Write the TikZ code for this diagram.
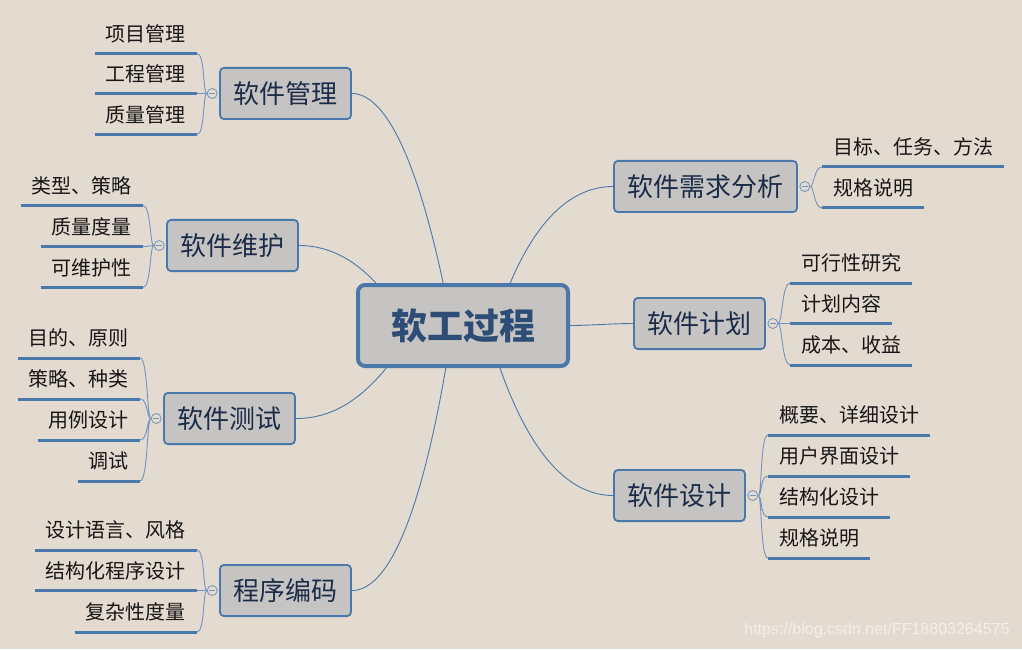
\documentclass[tikz,border=0pt]{standalone}
\usepackage{fontspec}
\setmainfont{Liberation Sans}
\newfontfamily\cjk{Noto Sans CJK SC}
\usetikzlibrary{positioning}
\definecolor{paper}{RGB}{227,219,207}
\definecolor{boxfill}{RGB}{197,196,194}
\definecolor{edge}{RGB}{74,120,170}
\definecolor{ink}{RGB}{27,44,72}
\definecolor{coreink}{RGB}{45,77,118}
\definecolor{leafink}{RGB}{22,22,22}
\definecolor{foldline}{RGB}{115,148,190}
\definecolor{wmark}{RGB}{243,240,235}
\tikzset{
  core/.style={draw=edge,line width=4pt,fill=boxfill,rounded corners=7pt,
    minimum width=210pt,minimum height=81pt,text=coreink,
    font=\cjk\bfseries\fontsize{36}{40}\selectfont},
  topic/.style={draw=edge,line width=1.8pt,fill=boxfill,rounded corners=4pt,
    minimum height=51.2pt,inner xsep=13.5pt,text=ink,
    font=\cjk\fontsize{26}{30}\selectfont},
  uline/.style={draw=edge,line width=3pt},
  leaf/.style={inner xsep=11pt,inner ysep=7pt,text height=15pt,text depth=5pt,
    text=leafink,font=\cjk\fontsize{20}{24}\selectfont,
    append after command={(\tikzlastnode.south west) edge[uline] (\tikzlastnode.south east)}},
  leafl/.style={leaf,anchor=south east},
  leafr/.style={leaf,anchor=south west},
  fold/.style={circle,draw=foldline,line width=0.8pt,fill=paper,minimum size=10pt,inner sep=0pt,
    path picture={\draw[foldline,line width=0.7pt]
      ([xshift=-2.8pt]path picture bounding box.center) -- ([xshift=2.8pt]path picture bounding box.center);}},
  link/.style={draw=edge,line width=0.9pt},
  twig/.style={draw=foldline,line width=0.9pt},
  twigl/.style={twig,out=180,in=0,out distance=4pt,in distance=8pt},
  twigr/.style={twig,out=0,in=180,out distance=4pt,in distance=8pt}
}
\begin{document}
\begin{tikzpicture}[x=1pt,y=1pt]
\fill[paper] (0,0) rectangle (1022,649);
% central topic and main branches
\node[core] (core) at (463,323.5) {软工过程};
\node[topic] (mgmt) at (285.5,555.5) {软件管理};
\node[topic] (maint) at (232.5,403.5) {软件维护};
\node[topic] (test) at (229.5,230.5) {软件测试};
\node[topic] (code) at (285.5,58.5) {程序编码};
\node[topic] (req) at (705.5,462.5) {软件需求分析};
\node[topic] (plan) at (699.5,325.5) {软件计划};
\node[topic] (design) at (679.5,153.5) {软件设计};
\draw[link] (mgmt.east) .. controls +(33,0) and +(-27,126) .. (core.115);
\draw[link] (maint.east) .. controls +(28,0) and +(-23,25) .. (core.154);
\draw[link] (test.east) .. controls +(34,0) and +(-28,-34) .. (core.209);
\draw[link] (code.east) .. controls +(36,0) and +(-26,-150) .. (core.248);
\draw[link] (req.west) .. controls +(-41,0) and +(27,64) .. (core.42);
\draw[link] (plan.west) .. controls +(-20,0) and +(20,0) .. (core.east);
\draw[link] (design.west) .. controls +(-45,0) and +(30,-85) .. (core.311);
% fold markers
\node[fold,left=1.5pt of mgmt] (fmgmt) {};
\node[fold,left=1.5pt of maint] (fmaint) {};
\node[fold,left=1.5pt of test] (ftest) {};
\node[fold,left=1.5pt of code] (fcode) {};
\node[fold,right=1.5pt of req] (freq) {};
\node[fold,right=1.5pt of plan] (fplan) {};
\node[fold,right=1.5pt of design] (fdesign) {};
% left leaves
\node[leafl] (m1) at (197,595.5) {项目管理};
\node[leafl] (m2) at (197,555.5) {工程管理};
\node[leafl] (m3) at (197,514.5) {质量管理};
\node[leafl] (w1) at (143,443.5) {类型、策略};
\node[leafl] (w2) at (143,402.5) {质量度量};
\node[leafl] (w3) at (143,361.5) {可维护性};
\node[leafl] (t1) at (140,291) {目的、原则};
\node[leafl] (t2) at (140,250) {策略、种类};
\node[leafl] (t3) at (140,209) {用例设计};
\node[leafl] (t4) at (140,168) {调试};
\node[leafl] (c1) at (197,99) {设计语言、风格};
\node[leafl] (c2) at (197,58.5) {结构化程序设计};
\node[leafl] (c3) at (197,17) {复杂性度量};
% right leaves
\node[leafr] (r1) at (822,482) {目标、任务、方法};
\node[leafr] (r2) at (822,441) {规格说明};
\node[leafr] (p1) at (790,366) {可行性研究};
\node[leafr] (p2) at (790,325.5) {计划内容};
\node[leafr] (p3) at (790,284) {成本、收益};
\node[leafr] (d1) at (768,214) {概要、详细设计};
\node[leafr] (d2) at (768,173) {用户界面设计};
\node[leafr] (d3) at (768,132) {结构化设计};
\node[leafr] (d4) at (768,91) {规格说明};
% brackets
\draw[twigl] (fmgmt.west) to (m1.south east) (fmgmt.west) to (m2.south east)
  (fmgmt.west) to (m3.south east);
\draw[twigl] (fmaint.west) to (w1.south east) (fmaint.west) to (w2.south east)
  (fmaint.west) to (w3.south east);
\draw[twigl] (ftest.west) to (t1.south east) (ftest.west) to (t2.south east)
  (ftest.west) to (t3.south east) (ftest.west) to (t4.south east);
\draw[twigl] (fcode.west) to (c1.south east) (fcode.west) to (c2.south east)
  (fcode.west) to (c3.south east);
\draw[twigr] (freq.east) to (r1.south west) (freq.east) to (r2.south west);
\draw[twigr] (fplan.east) to (p1.south west) (fplan.east) to (p2.south west)
  (fplan.east) to (p3.south west);
\draw[twigr] (fdesign.east) to (d1.south west) (fdesign.east) to (d2.south west)
  (fdesign.east) to (d3.south west) (fdesign.east) to (d4.south west);
\node[font=\fontsize{16}{18}\selectfont,text=wmark,anchor=east] (wm) at (1013,19)
  {https://blog.csdn.net/FF18803264575};
\end{tikzpicture}
\end{document}
